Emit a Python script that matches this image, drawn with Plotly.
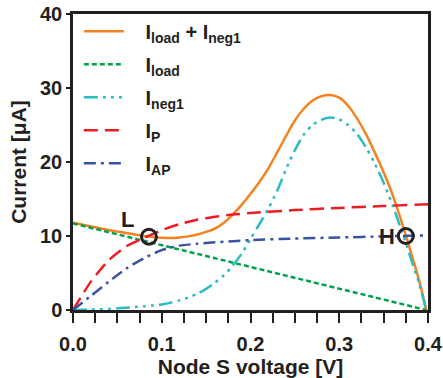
import plotly.graph_objects as go

# ---- data ----
v_grid = [0.00, 0.01, 0.02, 0.03, 0.04, 0.05, 0.06, 0.07, 0.08, 0.09, 0.10, 0.11, 0.12, 0.13,
          0.14, 0.15, 0.16, 0.17, 0.18, 0.19, 0.20, 0.21, 0.22, 0.23, 0.24, 0.25, 0.26, 0.27,
          0.28, 0.29, 0.30, 0.31, 0.32, 0.33, 0.34, 0.35, 0.36, 0.37, 0.38, 0.39, 0.398]
i_sum = [11.8, 11.55, 11.3, 11.05, 10.8, 10.6, 10.4, 10.2, 10.0, 9.85, 9.75, 9.72, 9.8, 9.95,
         10.2, 10.55, 11.0, 11.8, 12.9, 14.2, 15.7, 17.3, 19.1, 21.3, 23.5, 25.6, 27.2, 28.3,
         28.9, 29.05, 28.7, 27.6, 25.9, 23.8, 21.3, 18.6, 15.6, 12.0, 8.1, 4.0, 0.0]
i_neg1 = [0.0, 0.02, 0.05, 0.1, 0.15, 0.22, 0.3, 0.4, 0.5, 0.62, 0.75, 1.0, 1.3, 1.7,
          2.2, 2.85, 3.7, 4.7, 6.0, 7.6, 9.6, 11.6, 13.7, 16.1, 19.0, 21.6, 23.7, 25.0,
          25.7, 26.0, 25.75, 25.0, 23.8, 22.0, 19.8, 17.2, 14.2, 10.8, 7.2, 3.6, 0.0]

v_load = [0.0, 0.398]
i_load = [11.7, 0.0]

v_p = [0.0, 0.02, 0.04, 0.06, 0.08, 0.10, 0.12, 0.14, 0.16, 0.18, 0.20, 0.25, 0.30, 0.35, 0.40]
i_p = [0.0, 3.8, 6.7, 8.6, 9.75, 10.8, 11.6, 12.2, 12.6, 12.9, 13.1, 13.5, 13.8, 14.05, 14.3]
i_ap = [0.0, 1.9, 3.8, 5.6, 7.0, 8.1, 8.7, 8.95, 9.15, 9.3, 9.45, 9.65, 9.8, 9.95, 10.1]

op_v = [0.0856, 0.375]
op_i = [9.9, 10.0]
op_labels = ["L", "H"]

x_ticks = [0.0, 0.1, 0.2, 0.3, 0.4]
y_ticks = [0, 10, 20, 30, 40]

FONT = "Liberation Sans"
TXT = "#231f20"
PAD = "\u00a0\u00a0\u00a0"

fig = go.Figure()
fig.add_trace(go.Scatter(x=v_grid, y=i_sum, mode="lines", legendgroup="a",
                         name=PAD + "<b>I<sub>load</sub> + I<sub>neg1</sub></b>",
                         line=dict(color="#f58220", width=2.5, shape="spline", smoothing=0.8)))
fig.add_trace(go.Scatter(x=v_load, y=i_load, mode="lines", legendgroup="b",
                         name=PAD + "<b>I<sub>load</sub></b>",
                         line=dict(color="#00a14b", width=2.5, dash="5px,3px")))
fig.add_trace(go.Scatter(x=v_grid, y=i_neg1, mode="lines", legendgroup="c",
                         name=PAD + "<b>I<sub>neg1</sub></b>",
                         line=dict(color="#2bbcc0", width=2.5, shape="spline", smoothing=0.8,
                                   dash="14px,5px,3px,5px,3px,5px,3px,5px")))
fig.add_trace(go.Scatter(x=v_p, y=i_p, mode="lines", legendgroup="d",
                         name=PAD + "<b>I<sub>P</sub></b>",
                         line=dict(color="#ed1c24", width=2.5, shape="spline", smoothing=0.6, dash="14px,7px")))
fig.add_trace(go.Scatter(x=v_p, y=i_ap, mode="lines", legendgroup="e",
                         name=PAD + "<b>I<sub>AP</sub></b>",
                         line=dict(color="#3953a4", width=2.5, shape="spline", smoothing=0.6,
                                   dash="12px,5px,3px,5px")))
fig.add_trace(go.Scatter(x=op_v, y=op_i, mode="markers", showlegend=False,
                         marker=dict(symbol="circle-open", size=15, color=TXT, line=dict(width=3, color=TXT))))

shifts = [(-21, 17), (-19, 0)]
for v, i, t, (dx, dy) in zip(op_v, op_i, op_labels, shifts):
    fig.add_annotation(x=v, y=i, text="<b>%s</b>" % t, showarrow=False, xshift=dx, yshift=dy,
                       font=dict(family=FONT, size=22, color=TXT))

axis_common = dict(showline=True, linecolor=TXT, linewidth=2.5, mirror=True, showgrid=False,
                   zeroline=False, ticks="outside", tickcolor=TXT, tickwidth=1.5, automargin=False,
                   ticklabeloverflow="allow",
                   tickfont=dict(family=FONT, size=20, color=TXT))

fig.update_xaxes(range=[0, 0.4], tickvals=x_ticks, ticktext=["<b>%.1f</b>" % t for t in x_ticks],
                 ticklen=10, ticklabelstandoff=4,
                 minor=dict(dtick=0.025, tick0=0, ticks="outside", ticklen=10, tickcolor=TXT, tickwidth=1.5),
                 title=dict(text="<b>Node S voltage [V]</b>", font=dict(family=FONT, size=21, color=TXT), standoff=6),
                 **axis_common)
fig.update_yaxes(range=[0, 40], tickvals=y_ticks, ticktext=["<b>%d</b>" % t for t in y_ticks],
                 ticklen=4,
                 title=dict(text="<b>Current [μA]</b>", font=dict(family=FONT, size=21, color=TXT), standoff=8),
                 **axis_common)

fig.update_layout(
    width=443, height=378,
    margin=dict(l=73, r=15, t=14, b=68),
    paper_bgcolor="white", plot_bgcolor="white",
    font=dict(family=FONT, color=TXT),
    showlegend=True,
    legend=dict(x=0.0165, y=1.008, xanchor="left", yanchor="top", bgcolor="rgba(0,0,0,0)",
                font=dict(family=FONT, size=20, color=TXT), itemwidth=40, tracegroupgap=4),
)

# remove the browser's default 8px body margin so the 443x378 figure fills the window exactly
fig.write_html("out.html", config={"displayModeBar": False},
               post_script="document.body.style.margin='0px';document.body.style.overflow='hidden';")
